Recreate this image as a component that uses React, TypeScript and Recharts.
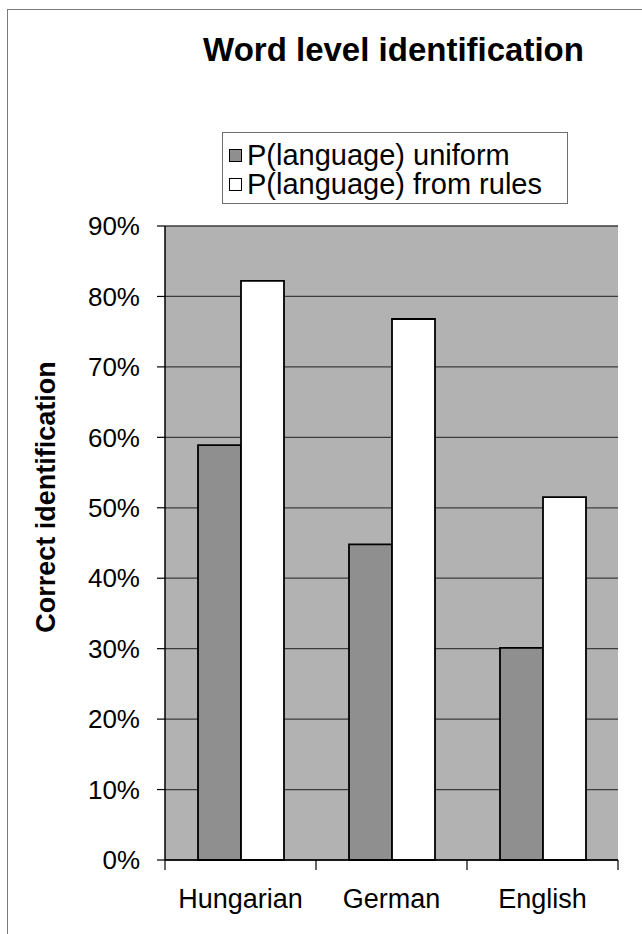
import { Bar, BarChart, CartesianGrid, XAxis, YAxis } from "recharts";

const languages = ["Hungarian", "German", "English"];
const uniform = [58.9, 44.8, 30.1];
const fromRules = [82.2, 76.8, 51.5];
const yTicks = [0, 10, 20, 30, 40, 50, 60, 70, 80, 90];
const seriesNames = ["P(language) uniform", "P(language) from rules"];

const data = languages.map((name, i) => ({ name, uniform: uniform[i], rules: fromRules[i] }));

const W = 642;
const H = 934;
const PLOT_LEFT = 165;
const PLOT_RIGHT = 618;
const PLOT_TOP = 226;
const PLOT_BOTTOM = 860;
const CAT_W = (PLOT_RIGHT - PLOT_LEFT) / languages.length;
const FONT = "'Liberation Sans', Arial, sans-serif";

const GRAY_BAR = "#8f8f8f";
const PLOT_BG = "#b2b2b2";

function CategoryTick(props: any) {
  const { x, y, payload, index } = props;
  const half = CAT_W / 2;
  const top = PLOT_BOTTOM;
  return (
    <g>
      <line x1={x - half} x2={x - half} y1={top} y2={top + 10} stroke="#000" strokeWidth={1.2} />
      {index === languages.length - 1 && (
        <line x1={x + half} x2={x + half} y1={top} y2={top + 10} stroke="#000" strokeWidth={1.2} />
      )}
      <text x={x} y={y} dy="0.71em" textAnchor="middle" fontSize={27} fill="#000" fontFamily={FONT}>
        {payload.value}
      </text>
    </g>
  );
}

export default function App() {
  return (
    <div style={{ position: "absolute", left: 0, top: 0, width: W, height: H, background: "#fff", overflow: "hidden", fontFamily: FONT }}>
      <div style={{ position: "absolute", left: 7, top: 9, width: 800, height: 1000, border: "1px solid #7a7a7a" }} />
      <BarChart
        width={W}
        height={H}
        data={data}
        margin={{ top: PLOT_TOP, right: W - PLOT_RIGHT, bottom: 0, left: 0 }}
        barGap={0}
        barSize={43}
        style={{ position: "absolute", left: 0, top: 0 }}
      >
        <CartesianGrid yAxisId="l" vertical={false} fill={PLOT_BG} stroke="#3c3c3c" strokeWidth={1.3} />
        <XAxis
          dataKey="name"
          axisLine={{ stroke: "#000", strokeWidth: 1.5 }}
          tickLine={false}
          tickSize={10}
          tickMargin={19}
          tick={<CategoryTick />}
          interval={0}
          height={H - PLOT_BOTTOM}
        />
        <YAxis
          yAxisId="l"
          width={PLOT_LEFT}
          domain={[0, 90]}
          ticks={yTicks}
          interval={0}
          tickFormatter={(v: number) => `${v}%`}
          axisLine={{ stroke: "#000", strokeWidth: 1.5 }}
          tickLine={{ stroke: "#000", strokeWidth: 1.2 }}
          tickSize={8}
          tickMargin={17}
          tick={{ fontSize: 26, fill: "#000", fontFamily: FONT }}
        />
        <YAxis
          yAxisId="r"
          orientation="right"
          width={0}
          domain={[0, 90]}
          tick={false}
          tickLine={false}
          axisLine={{ stroke: "#808080", strokeWidth: 1.2 }}
        />
        <Bar yAxisId="l" dataKey="uniform" name={seriesNames[0]} fill={GRAY_BAR} stroke="#000" strokeWidth={1.8} isAnimationActive={false} />
        <Bar yAxisId="l" dataKey="rules" name={seriesNames[1]} fill="#fff" stroke="#000" strokeWidth={1.8} isAnimationActive={false} />
      </BarChart>

      <div style={{ position: "absolute", left: 0, width: W, top: 33, textAlign: "center", paddingLeft: 145, boxSizing: "border-box", fontSize: 33, fontWeight: "bold", lineHeight: "33px", whiteSpace: "nowrap" }}>
        Word level identification
      </div>

      <div style={{ position: "absolute", left: 222, top: 132, width: 346, height: 72, boxSizing: "border-box", border: "1px solid #6e6e6e", background: "#fff", padding: "8px 0 0 6px" }}>
        {seriesNames.map((n, i) => (
          <div key={n} style={{ display: "flex", alignItems: "center", height: 29, fontSize: 29, whiteSpace: "nowrap" }}>
            <span style={{ display: "inline-block", width: 11, height: 11, border: "1.5px solid #000", background: i === 0 ? GRAY_BAR : "#fff", marginRight: 5 }} />
            {n}
          </div>
        ))}
      </div>

      <div style={{ position: "absolute", left: 46, top: 497, transform: "translate(-50%, -50%) rotate(-90deg)", fontSize: 27, fontWeight: "bold", whiteSpace: "nowrap", lineHeight: "27px" }}>
        Correct identification
      </div>
    </div>
  );
}
